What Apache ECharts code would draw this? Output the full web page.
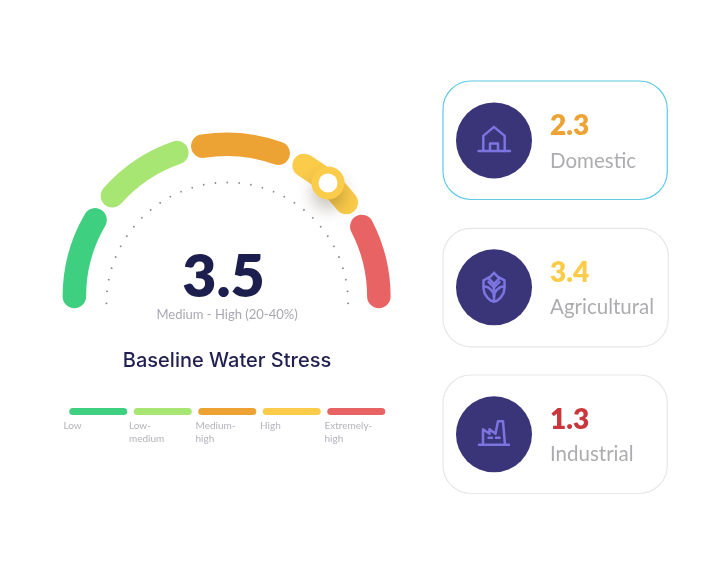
<!DOCTYPE html>
<html><head><meta charset="utf-8">
<style>html,body{margin:0;padding:0;background:#fff}#c{width:706px;height:575px}</style>
<script src="https://cdn.jsdelivr.net/npm/echarts@6/dist/echarts.min.js"></script>
</head><body><div id="c"></div>
<script>
const bandNames = ['Low','Low-\nmedium','Medium-\nhigh','High','Extremely-\nhigh'];
const bandColors = ['#3ecf80','#a8e673','#eda334','#fbcb4a','#e86464'];
const bandStarts = [0,1.15,2.25,3.35,4.24];
const bandEnds = [0.84,1.97,3.05,3.94,5];
const legendValues = [1,1,1,1,1];
const markerPosition = 3.66;
const scoreText = '3.5';
const scoreCaption = 'Medium - High (20-40%)';
const chartTitle = 'Baseline Water Stress';
const sectorNames = ['Domestic','Agricultural','Industrial'];
const sectorValues = ['2.3','3.4','1.3'];
const sectorColors = ['#eda334','#fbcb4a','#c9373d'];
const sectorIcons = [
 [[[-15.5,10.7],[16,10.7]],[[-10.7,10.7],[-10.7,-4.5],[0,-13.5],[10.7,-4.5],[10.7,10.7]],[[-4,10.7],[-4,3],[4,3],[4,10.7]]],
 [[[0,-14.5],[5.3,-9],[0,-3.5],[-5.3,-9],[0,-14.5]],
  [[-5,-10],[-10.5,-7],[-10.5,1],[-9.5,6],[-6.5,10.5],[-3,13.5],[0,14.3],[3,13.5],[6.5,10.5],[9.5,6],[10.5,1],[10.5,-7],[5,-10]],
  [[0,-3.5],[0,14.3]],
  [[-10.5,-1],[-6,0],[-2.5,3],[-0.5,6],[0,9]],[[10.5,-1],[6,0],[2.5,3],[0.5,6],[0,9]],
  [[-5.5,-5.5],[0,0],[5.5,-5.5]]],
 [[[-15,10.5],[15,10.5]],[[-11,10.5],[-11,-5],[-4.5,-0.5],[-4.5,-5],[1.5,-0.5],[4,-13],[9,-13],[11,10.5]],[[-5.5,3.5],[-2,3.5]],[[2,3.5],[5.5,3.5]]]
];
const FONT = 'Lato, sans-serif';

const series = [];
let prev = 0;
bandColors.forEach((color,i)=>{
  series.push({type:'bar',coordinateSystem:'polar',stack:'arc',barWidth:23.5,silent:true,
    data:[bandStarts[i]-prev],itemStyle:{color:'rgba(0,0,0,0)'}});
  series.push({type:'bar',coordinateSystem:'polar',stack:'arc',barWidth:23.5,roundCap:true,silent:true,
    data:[bandEnds[i]-bandStarts[i]],itemStyle:{color}});
  prev = bandEnds[i];
});
series.push({type:'gauge',center:[227.3,303.3],radius:121,startAngle:180,endAngle:0,min:0,max:5,splitNumber:32,
  axisLine:{show:false,lineStyle:{width:0}},axisTick:{show:false},axisLabel:{show:false},pointer:{show:false},
  progress:{show:false},detail:{show:false},title:{show:false},anchor:{show:false},
  splitLine:{show:true,distance:0,length:0.3,lineStyle:{color:'#8a8a94',width:1.7,cap:'round'}},data:[]});
series.push({type:'scatter',coordinateSystem:'polar',symbolSize:33,silent:true,z:5,data:[[0,markerPosition]],
  itemStyle:{opacity:1,color:'#fbcb4a',shadowBlur:16,shadowOffsetY:10,shadowOffsetX:0,shadowColor:'rgba(60,50,20,0.28)'}});
series.push({type:'scatter',coordinateSystem:'polar',symbolSize:19,silent:true,z:6,data:[[0,markerPosition]],
  itemStyle:{opacity:1,color:'#fff'}});
series.push({type:'bar',xAxisIndex:0,yAxisIndex:0,barWidth:58,silent:true,
  data:legendValues.map((v,i)=>({value:v,itemStyle:{color:bandColors[i],borderRadius:3.5}}))});

const graphic = [];
const T=(text,x,y,size,color,weight,align,font)=>({type:'text',x,y,z:10,style:{text,x:0,y:0,fill:color,fontFamily:font||FONT,fontSize:size,fontWeight:weight||400,align:align||'left',verticalAlign:'middle',lineHeight:13}});
graphic.push(T(scoreText,223.5,278,59,'#1c1f4d',800,'center'));
graphic.push(T(scoreCaption,227,315,13,'#a9a9b3',400,'center'));
graphic.push(T(chartTitle,227,361,20,'#1f2050',500,'center','Inter, sans-serif'));
const legendLabelX=[63.5,129,195.5,260,324.5];
bandNames.forEach((n,i)=>{graphic.push(T(n,legendLabelX[i],432.5-(n.includes('\n')?0:6.5),10,'#b3b3bb',400));});
const cardTops=[81,228.3,375], circleYs=[140.4,287.3,434.3], borders=['#5fc9e6','#e7e7ec','#e7e7ec'], rights=[667.3,668.3,667.3];
sectorNames.forEach((n,i)=>{
  graphic.push({type:'rect',z:1,shape:{x:443,y:cardTops[i],width:rights[i]-443,height:118.5,r:28},style:{fill:'#fff',stroke:borders[i],lineWidth:1.2}});
  graphic.push({type:'circle',z:2,shape:{cx:494,cy:circleYs[i],r:38},style:{fill:'#3a3478'}});
  sectorIcons[i].forEach(points=>graphic.push({type:'polyline',z:3,x:494,y:circleYs[i],shape:{points},style:{fill:'none',stroke:'#7d74e0',lineWidth:2.5,lineJoin:'round',lineCap:'round'}}));
  graphic.push(T(sectorValues[i],550,circleYs[i]-14.5,28,sectorColors[i],800));
  graphic.push(T(n,550,circleYs[i]+20.5,20.5,'#adadb0',400));
});

const chart = echarts.init(document.getElementById('c'),null,{renderer:'canvas'});
chart.setOption({
  animation:false,backgroundColor:'#fff',
  polar:{center:[226.6,296.5],radius:[140.5,164]},
  angleAxis:{type:'value',min:0,max:5,startAngle:180,endAngle:0,show:false},
  radiusAxis:{type:'category',data:['arc'],show:false},
  grid:{left:66,top:408,width:322.5,height:7},
  xAxis:{type:'category',data:bandNames,show:false},
  yAxis:{type:'value',min:0,max:1,show:false},
  series,graphic:{elements:graphic}
});
</script></body></html>
